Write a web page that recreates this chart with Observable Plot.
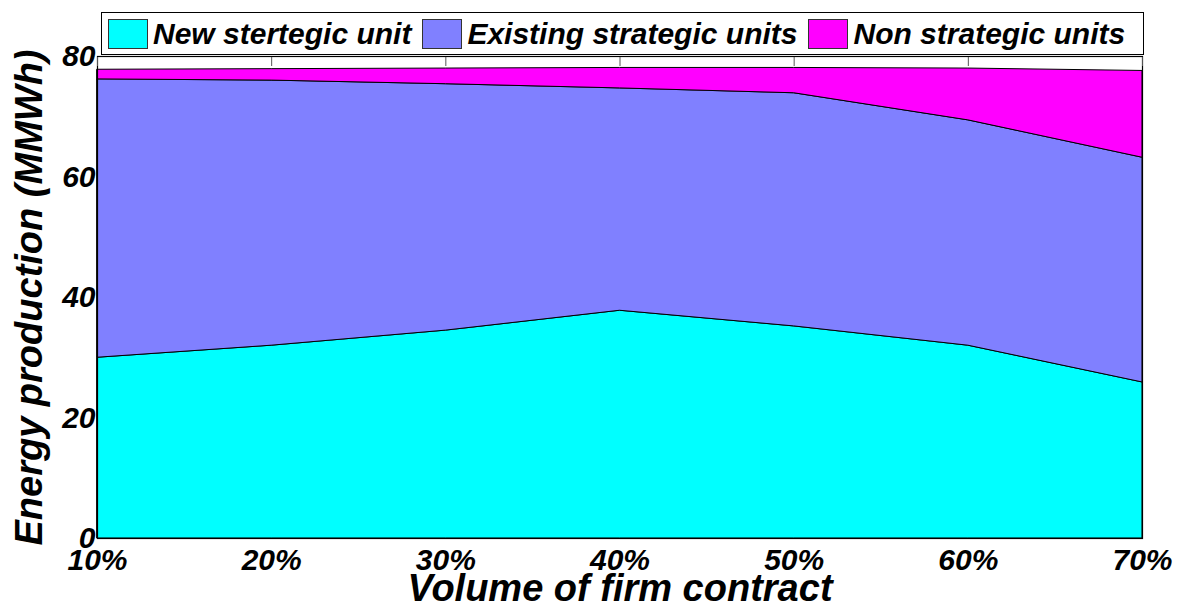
<!DOCTYPE html>
<html><head><meta charset="utf-8">
<script src="https://cdn.jsdelivr.net/npm/d3@7"></script>
<script src="https://cdn.jsdelivr.net/npm/@observablehq/plot@0.6"></script>
<style>
body{margin:0;background:#fff;}
#wrap{position:relative;width:1181px;height:609px;font-family:"Liberation Sans",Arial,sans-serif;}
#legend{position:absolute;left:101px;top:12px;width:1043px;height:43px;box-sizing:border-box;border:1px solid #000;background:#fff;display:flex;align-items:center;font-size:30px;font-weight:bold;font-style:italic;padding-left:6px;color:#000;}
.sw{width:40px;height:30px;box-sizing:border-box;border:1px solid #333;margin-right:5px;flex:none;}
.item{display:flex;align-items:center;margin-right:11px;white-space:nowrap;}
</style></head><body><div id="wrap"><div id="chart"></div><div id="legend"></div></div>
<script>
const xValues = [10, 20, 30, 40, 50, 60, 70];
const yTicks = [0, 20, 40, 60, 80];
const seriesNames = ["New stertegic unit", "Existing strategic units", "Non strategic units"];
const seriesColors = ["#00FFFF", "#8080FF", "#FF00FF"];
const newUnit = [30.0, 32.0, 34.5, 37.8, 35.2, 32.0, 25.9];
const existingUnits = [46.2, 44.0, 40.9, 36.9, 38.7, 37.4, 37.3];
const nonStrategic = [1.6, 1.9, 2.6, 3.4, 4.2, 8.6, 14.4];
const xLabel = "Volume of firm contract";
const yLabel = "Energy production (MMWh)";

const seriesValues = [newUnit, existingUnits, nonStrategic];
const data = xValues.flatMap((x, i) => seriesNames.map((s, k) => ({x, series: s, value: seriesValues[k][i]})));

const font = '"Liberation Sans", Arial, sans-serif';
const chart = Plot.plot({
  width: 1181, height: 609,
  marginLeft: 97, marginRight: 39, marginTop: 56, marginBottom: 71,
  style: {fontFamily: font, background: "transparent", overflow: "visible"},
  x: {domain: [10, 70]},
  y: {domain: [0, 80]},
  color: {domain: seriesNames, range: seriesColors},
  marks: [
    Plot.areaY(data, Plot.stackY({x: "x", y: "value", fill: "series", z: "series", order: seriesNames, stroke: "#000", strokeWidth: 1})),
    Plot.frame({stroke: "#000", strokeWidth: 1.2}),
    Plot.axisX(xValues, {anchor: "top", tickSize: -9, tickFormat: () => "", label: null, stroke: "#555"}),
    Plot.axisX(xValues, {anchor: "bottom", tickSize: 0, tickPadding: 10, tickFormat: d => d + "%", label: null, fontSize: 30, fontWeight: "bold", fontStyle: "italic", fill: "#000", fontFamily: font}),
    Plot.axisX({anchor: "bottom", ticks: [], label: xLabel, labelAnchor: "center", labelArrow: "none", labelOffset: 62, fontSize: 38, fontWeight: "bold", fontStyle: "italic", fill: "#000", fontFamily: font}),
    Plot.axisY(yTicks, {anchor: "left", tickSize: 0, tickPadding: 2, label: null, fontSize: 30, fontWeight: "bold", fontStyle: "italic", fill: "#000", fontFamily: font}),
    Plot.axisY({anchor: "left", ticks: [], label: yLabel, labelAnchor: "center", labelArrow: "none", labelOffset: 82, fontSize: 38, fontWeight: "bold", fontStyle: "italic", fill: "#000", fontFamily: font})
  ]
});
document.getElementById("chart").appendChild(chart);

const legend = document.getElementById("legend");
seriesNames.forEach((name, i) => {
  const item = document.createElement("div");
  item.className = "item";
  const sw = document.createElement("div");
  sw.className = "sw";
  sw.style.background = seriesColors[i];
  const t = document.createElement("span");
  t.textContent = name;
  item.appendChild(sw);
  item.appendChild(t);
  legend.appendChild(item);
});
</script></body></html>
